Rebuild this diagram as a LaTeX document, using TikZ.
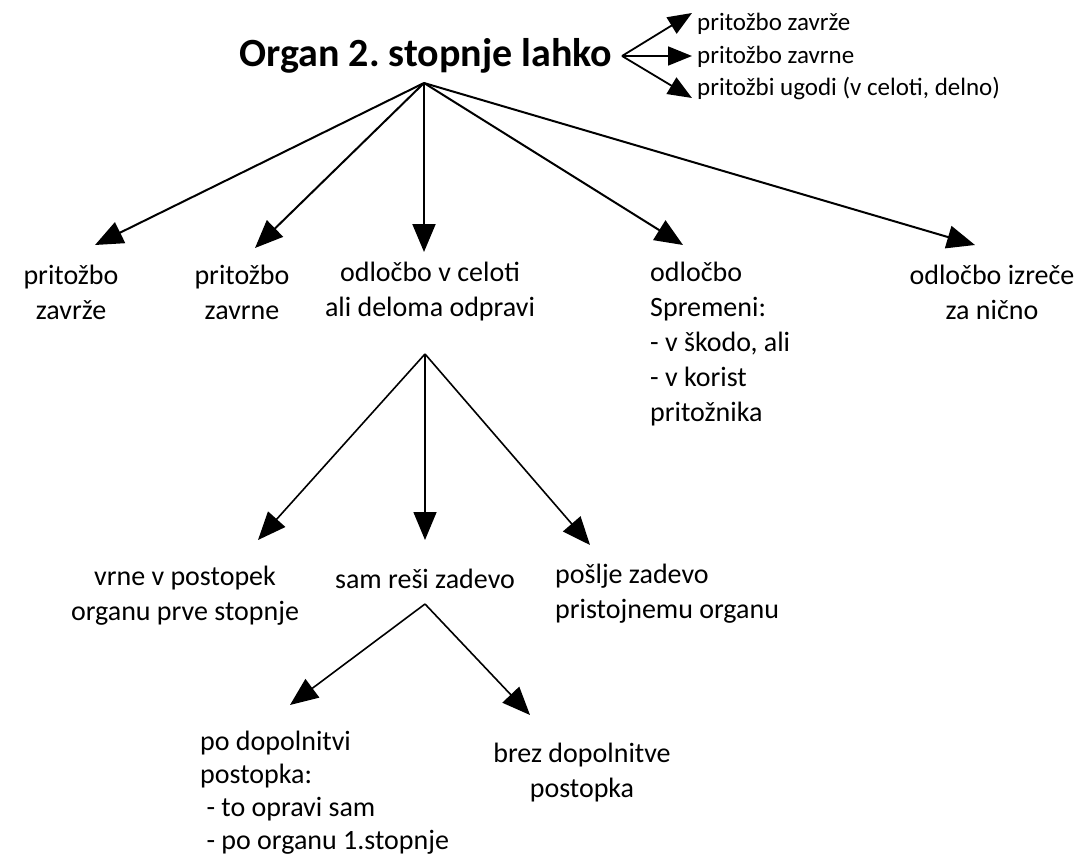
\documentclass[tikz,border=0pt]{standalone}
\usepackage{fontspec}
\setmainfont{Carlito}
\usetikzlibrary{arrows.meta}
\frenchspacing
\begin{document}
\begin{tikzpicture}[x=1pt,y=-1pt,
  body/.style={inner sep=0pt,font=\fontsize{28}{35}\selectfont},
  small/.style={inner sep=0pt,anchor=west,font=\fontsize{25}{30}\selectfont},
  bigarr/.style={line width=2pt,-{Triangle[length=28pt,width=23pt]}},
  midarr/.style={line width=1.6pt,-{Triangle[length=28pt,width=23pt]}},
  smallarr/.style={line width=1.8pt,-{Triangle[length=24pt,width=19pt]}}]
\useasboundingbox (0,0) rectangle (1084,857);
% title
\node[inner sep=0pt,font=\fontsize{40}{46}\bfseries\selectfont] (title) at (426,56) {Organ 2. stopnje lahko};
\coordinate (src) at (622,56);
\node[small] (s1) at (697,24) {pritožbo zavrže};
\node[small] (s2) at (697,57) {pritožbo zavrne};
\node[small] (s3) at (697,89) {pritožbi ugodi (v celoti, delno)};
\coordinate (st1) at (692,13);
\coordinate (st2) at (692,56);
\coordinate (st3) at (692,98);
\draw[smallarr] (src) -- (st1);
\draw[smallarr] (src) -- (st2);
\draw[smallarr] (src) -- (st3);
% level 1
\coordinate (a1) at (424,83);
\node[body,align=center] (n1) at (71,292) {pritožbo\\zavrže};
\node[body,align=center] (n2) at (242,292) {pritožbo\\zavrne};
\node[body,align=center] (n3) at (430,292) {odločbo v celoti\\ali deloma odpravi};
\node[body,align=left,anchor=north west] (n4) at (650,262) {odločbo\\Spremeni:\\- v škodo, ali\\- v korist\\pritožnika};
\node[body,align=center] (n5) at (992,292) {odločbo izreče\\za nično};
\coordinate (t1) at (95,245);
\coordinate (t2) at (255,248);
\coordinate (t3) at (424,252);
\coordinate (t4) at (683,245);
\coordinate (t5) at (975,245);
\draw[bigarr] (a1) -- (t1);
\draw[bigarr] (a1) -- (t2);
\draw[bigarr] (a1) -- (t3);
\draw[bigarr] (a1) -- (t4);
\draw[bigarr] (a1) -- (t5);
% level 2
\coordinate (a2) at (425,354);
\node[body,align=center] (m1) at (185,596) {vrne v postopek\\organu prve stopnje};
\node[body] (m2) at (425,579) {sam reši zadevo};
\node[body,align=left,anchor=north west] (m3) at (555,564) {pošlje zadevo\\pristojnemu organu};
\coordinate (u1) at (258,540);
\coordinate (u2) at (425,540);
\coordinate (u3) at (590,545);
\draw[midarr] (a2) -- (u1);
\draw[midarr] (a2) -- (u2);
\draw[midarr] (a2) -- (u3);
% level 3
\coordinate (a3) at (425,604);
\node[body,align=left,anchor=north west,font=\fontsize{28}{33}\selectfont] (k1) at (200,731) {po dopolnitvi\\postopka:\\\ - to opravi sam\\\ - po organu 1.stopnje};
\node[body,align=center] (k2) at (582,773) {brez dopolnitve\\postopka};
\coordinate (v1) at (290,705);
\coordinate (v2) at (530,715);
\draw[midarr] (a3) -- (v1);
\draw[midarr] (a3) -- (v2);
\end{tikzpicture}
\end{document}
